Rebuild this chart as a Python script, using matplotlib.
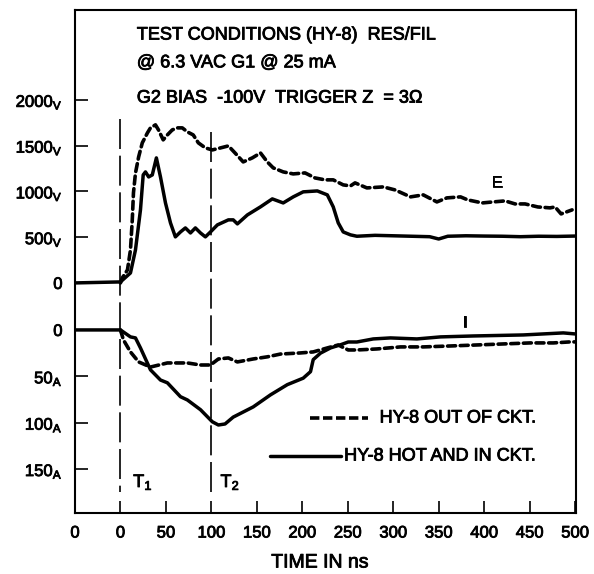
import numpy as np
import matplotlib
matplotlib.use("Agg")
import matplotlib.pyplot as plt
import matplotlib.patheffects as pe

plt.rcParams['font.family'] = ['Liberation Sans', 'DejaVu Sans']
plt.rcParams['mathtext.fontset'] = 'custom'
plt.rcParams['mathtext.rm'] = 'Liberation Sans'
plt.rcParams['mathtext.it'] = 'Liberation Sans'

# E (volts) -- HY-8 hot and in circuit (solid)
e_hot_t = [-50, 0, 11, 16.5, 22, 25, 27.5, 31, 35, 39.5, 44, 49.5, 55, 60.4, 66, 71.4, 77,
           82.4, 88, 93.4, 99, 106.6, 118.7, 124, 128.6, 139.6, 154, 167, 179, 190, 201,
           216.5, 227.5, 234, 239.5, 245, 253, 260, 280, 300, 320, 340, 350, 360, 380,
           400, 420, 440, 460, 480, 500]
e_hot_v = [0, 11, 109, 360, 798, 1180, 1213, 1158, 1180, 1366, 1158, 874, 656, 503, 557, 601,
           546, 601, 546, 503, 557, 634, 689, 689, 645, 743, 831, 918, 874, 940, 995,
           1005, 962, 831, 656, 557, 525, 510, 520, 515, 510, 505, 480, 510, 515,
           512, 510, 505, 510, 508, 512]

# E (volts) -- HY-8 out of circuit (dashed)
e_out_t = [0, 2, 7.7, 11, 13, 14.3, 16.5, 20, 24, 29.7, 33, 38.5, 41.8, 47, 51.6, 57, 62.6,
           68, 73.6, 80, 85.7, 93.4, 101, 110, 118.7, 126, 135, 145, 154, 161.5, 168, 179,
           190, 203, 214, 225, 234, 245, 253, 258, 271, 289, 302, 319, 333, 348, 359, 374,
           382, 398, 410, 423, 434, 445, 459, 472.5, 478, 484.6, 496.7]
e_out_v = [0, 55, 142, 360, 690, 984, 1200, 1377, 1530, 1640, 1694, 1727, 1672, 1563, 1617,
           1672, 1694, 1694, 1650, 1617, 1530, 1475, 1453, 1475, 1497, 1420, 1322, 1366,
           1420, 1322, 1257, 1213, 1191, 1202, 1147, 1126, 1126, 1071, 1060, 1093, 1038,
           1049, 1016, 940, 962, 885, 929, 940, 907, 874, 885, 896, 863, 863, 830, 820,
           830, 754, 798]

# I (amps) -- HY-8 hot and in circuit (solid)
i_hot_t = [-50, 0, 11, 16.5, 22, 33, 44, 51.6, 66, 73.6, 88, 101, 107.7, 115, 124, 146, 165,
           183.5, 201, 209, 212, 220, 231, 242, 250.5, 260, 278, 297, 326, 352, 388, 443,
           487, 500]
i_hot_a = [0, 0, 7.5, 8.6, 19.4, 43, 54, 57, 72, 75.5, 86, 99, 102.5, 101.4, 94, 83, 70,
           59, 52, 45, 32, 25, 19.4, 16, 13, 13, 9.7, 8.6, 9.7, 7.5, 6.5, 5.4,
           3.2, 4.3]

# I (amps) -- HY-8 out of circuit (dashed)
i_out_t = [0, 3.3, 11, 20, 33, 51.6, 73.6, 88, 99, 107.7, 118.7, 128.6, 146, 161.5, 176, 198,
           212, 227.5, 239.5, 250.5, 260, 282, 308, 333, 362.6, 392, 421, 450.5, 476,
           494.5, 500]
i_out_a = [0, 10.8, 23.7, 34.5, 40, 35.6, 35.6, 37.8, 37.8, 31.3, 30.2, 34.5, 31.3, 29, 26,
           24.8, 23.7, 19.4, 16.2, 21.6, 21.6, 20.5, 18.3, 18.3, 17.3, 16.2, 15.1, 14,
           14, 12.9, 12.9]

v_ticks = [0, 500, 1000, 1500, 2000]
a_ticks = [0, 50, 100, 150]
x_ticks = [-50, 0, 50, 100, 150, 200, 250, 300, 350, 400, 450, 500]
x_labels = ['0', '0', '50', '100', '150', '200', '250', '300', '350', '400', '450', '500']

# shared vertical axis: volts stacked above amps
V_OFF = 50.7
V_SCALE = 0.0987


def v2y(v):
    return V_OFF + np.asarray(v) * V_SCALE


def a2y(a):
    return -np.asarray(a)


# a bit of stroke so the type looks as heavy as the scanned original
heavy = [pe.withStroke(linewidth=0.6, foreground='black')]

fig = plt.figure(figsize=(5.94, 5.74), dpi=100)
ax = fig.add_axes([75 / 594, 1 - 513 / 574, 501 / 594, 503 / 574])

solid = dict(color='black', lw=2.5, solid_joinstyle='round', solid_capstyle='round')
dashed = dict(color='black', lw=2.6, dashes=(2.2, 1.3), dash_capstyle='round')

ax.plot(e_hot_t, v2y(e_hot_v), **solid)
ax.plot(e_out_t, v2y(e_out_v), **dashed)
ax.plot(i_hot_t, a2y(i_hot_a), **solid)
ax.plot(i_out_t, a2y(i_out_a), **dashed)

# T1 / T2 markers
ax.plot([0, 0], [228, -175], color='black', lw=1.2, dashes=(18, 4))
ax.plot([100, 100], [213, -175], color='black', lw=1.2, dashes=(18, 4))
ax.text(14, -164, r'T$_1$', fontsize=13, va='center', path_effects=heavy)
ax.text(110, -164, r'T$_2$', fontsize=13, va='center', path_effects=heavy)

# legend drawn by hand like the original
ax.plot([209, 272], [-95, -95], color='black', lw=2.6, dashes=(2.6, 1.0))
ax.text(285, -95, 'HY-8 OUT OF CKT.', fontsize=13, va='center', path_effects=heavy)
ax.plot([165, 242], [-136, -136], **solid)
ax.text(246, -136, 'HY-8 HOT AND IN CKT.', fontsize=13, va='center', path_effects=heavy)

ax.text(414, 159, 'E', fontsize=11.5, ha='center', va='center', path_effects=heavy)
ax.text(379, 8, 'I', fontsize=11.5, ha='center', va='center', path_effects=heavy)

ax.text(18, 318, 'TEST CONDITIONS (HY-8)  RES/FIL', fontsize=13, va='center',
        path_effects=heavy)
ax.text(18, 288, '@ 6.3 VAC G1 @ 25 mA', fontsize=13, va='center', path_effects=heavy)
ax.text(18, 250, 'G2 BIAS  -100V  TRIGGER Z  = 3\u03a9', fontsize=13, va='center',
        path_effects=heavy)

ax.set_xlim(-50, 501)
ax.set_ylim(-197.4, 345)
ax.set_xticks(x_ticks)
ax.set_xticklabels(x_labels, fontsize=12)

ytick_pos = list(v2y(v_ticks)) + list(a2y(a_ticks))
ytick_lab = ['0'] + [r'%d$_\mathrm{V}$' % v for v in v_ticks[1:]] + \
            ['0'] + [r'%d$_\mathrm{A}$' % a for a in a_ticks[1:]]
ax.set_yticks(ytick_pos)
ax.set_yticklabels(ytick_lab, fontsize=12)
for lab in ax.get_xticklabels() + ax.get_yticklabels():
    lab.set_path_effects(heavy)

ax.tick_params(direction='in', length=9, width=1.2, pad=9)
for s in ax.spines.values():
    s.set_linewidth(1.5)

fig.text(320 / 594, 1 - 563 / 574, 'TIME IN ns', fontsize=14, ha='center', va='center',
         path_effects=heavy)

fig.savefig('out.png', dpi=100)
